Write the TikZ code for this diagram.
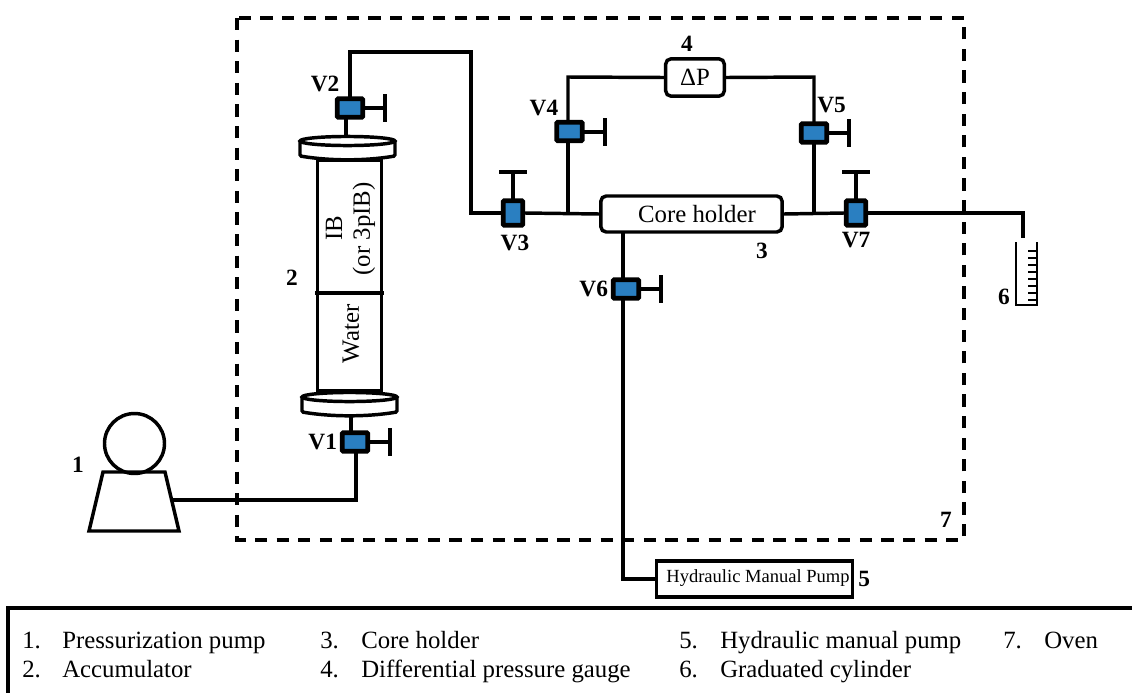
\documentclass[tikz,border=0pt]{standalone}
\usepackage{fontspec}
\setmainfont{Liberation Serif}
\usepackage{tikz}
\usetikzlibrary{positioning}
\definecolor{valveblue}{HTML}{2A7FC1}
\tikzset{
    pipe/.style={line width=2.6pt, line cap=rect, line join=miter},
    handle/.style={line width=3pt, line cap=rect},
    valveh/.style={rectangle,rounded corners=0.8pt,draw=black,fill=valveblue,line width=3.6pt,minimum width=19pt,minimum height=14pt,inner sep=0pt},
    valvev/.style={valveh,minimum width=14.5pt,minimum height=18.5pt},
    mybox/.style={rectangle,rounded corners=4pt,draw=black,fill=white,line width=2.6pt,inner sep=0pt,text centered},
    tag/.style={font=\fontsize{17.5}{19}\selectfont\bfseries,inner sep=0pt},
    txt/.style={font=\fontsize{18.6}{21}\selectfont,inner sep=0pt},
    legend/.style={font=\fontsize{18.6}{21}\selectfont,inner sep=0pt,anchor=base west}
}
\begin{document}
\begin{tikzpicture}[x=0.75pt,y=-0.75pt]
    \useasboundingbox (0,0) rectangle (1132,693);
    % oven
    \draw[line width=2.4pt,dash pattern=on 9.2pt off 7pt] (237,18) rectangle (964,540);
    \node[tag] (oventag) at (946,520) {7};
    % pump
    \node[circle,draw=black,line width=2.6pt,minimum size=45pt,inner sep=0pt] (pumphead) at (134.5,443.5) {};
    \draw[line width=2.6pt,line join=miter] (103,472) -- (165,472) -- (179,531) -- (89,531) -- cycle;
    \coordinate (pumpout) at (173,500);
    \node[tag] (pumptag) at (78,465) {1};
    % accumulator
    \node[rectangle,draw=black,line width=2.4pt,minimum width=48.5pt,minimum height=173pt,inner sep=0pt] (cyl) at (349.5,275.5) {};
    \draw[pipe] (317,293) -- (382,293);
    \foreach \fx/\fy/\fname in {300/135/ftop,302/391/fbot} {
      \begin{scope}[shift={(\fx,\fy)}]
        \draw[line width=2.6pt,fill=white,rounded corners=1pt] (0,6) -- (0,21) .. controls (30,26) and (65,26) .. (95,21) -- (95,6);
        \draw[line width=2.6pt,fill=white] (47.5,6) ellipse (35.6pt and 3.4pt);
        \coordinate (\fname) at (47.5,0);
      \end{scope}
    }
    \node[txt,rotate=90] (ibtxt) at (334,228) {IB};
    \node[txt,rotate=90] (orftxt) at (364,229) {(or 3pIB)};
    \node[txt,rotate=90] (watertxt) at (351,334) {Water};
    \node[tag] (acctag) at (292,278) {2};
    % valves
    \node[valveh] (v1) at (355,442) {};
    \node[valveh] (v2) at (350,108) {};
    \node[valvev] (v3) at (513,213) {};
    \node[valveh] (v4) at (569.5,131.5) {};
    \node[valveh] (v5) at (814,133) {};
    \node[valveh] (v6) at (626,289) {};
    \node[valvev] (v7) at (856,213) {};
    \node[tag,left=2pt of v1] {V1};
    \node[tag,above left=3pt and -3.5pt of v2.north west] {V2};
    \node[tag,below=5pt of v3,xshift=1.5pt] {V3};
    \node[tag,above left=3pt and -3pt of v4.north west] {V4};
    \node[tag,above right=6pt and -9pt of v5.north east] {V5};
    \node[tag,left=2pt of v6] {V6};
    \node[tag,below=3pt of v7] {V7};
    \foreach \v in {v1,v2,v4,v5,v6} {
      \draw[handle] (\v.east) -- ++(20,0) ++(0,-12) -- ++(0,24);
    }
    \foreach \v in {v3,v7} {
      \draw[handle] (\v.north) -- ++(0,-26) ++(-12,0) -- ++(24,0);
    }
    % core holder and gauge
    \node[mybox,minimum width=136pt,minimum height=27pt] (core) at (691.5,214) {};
    \node[txt] (coretxt) at (697,214) {Core holder};
    \node[tag,below right=7pt and -21pt of core.south east] (coretag) {3};
    \node[mybox,minimum width=44pt,minimum height=28pt] (gauge) at (695,77.5) {\fontsize{18.6}{21}\selectfont ΔP};
    \node[tag,above=4pt of gauge,xshift=-6pt] (gaugetag) {4};
    % hydraulic pump
    \node[rectangle,draw=black,line width=2.4pt,minimum width=147pt,minimum height=27pt,inner sep=0pt] (manual) at (754.5,579) {};
    \node[font=\fontsize{13.9}{15}\selectfont,inner sep=0pt] (manualtxt) at (758,578) {Hydraulic Manual Pump};
    \node[tag,right=3pt of manual] (manualtag) {5};
    % cylinder
    \coordinate (glass) at (1016,242);
    \draw[line width=1.2pt] (glass) -- (1016,305) -- (1037,305) -- (1037,242);
    \foreach \ty in {0,...,7} {
      \draw[line width=0.8pt] (1037,251+7*\ty) -- (1028,251+7*\ty);
    }
    \node[tag] (glasstag) at (1004,297) {6};
    % pipes
    \draw[pipe] (pumpout) -- (356,500) -- (v1.south -| 356,0);
    \draw[pipe] (v1.north -| 351,0) -- (351,417);
    \draw[pipe] (v2.north) -- (350,52) -- (471,52) -- (471,213) -- (v3.west);
    \draw[pipe] (v2.south -| 346,0) -- (346,135);
    \draw[pipe] (v3.east) -- (core.west);
    \draw[pipe] (568,213) -- (v4.south -| 568,0);
    \draw[pipe] (v4.north -| 568,0) -- (568,77) -- (gauge.west);
    \draw[pipe] (gauge.east) -- (814,77) -- (v5.north);
    \draw[pipe] (v5.south) -- (814,213);
    \draw[pipe] (core.east) -- (v7.west);
    \draw[pipe] (v7.east) -- (1023,213) -- (1023,236);
    \draw[pipe] (623,233) -- (v6.north -| 623,0);
    \draw[pipe] (v6.south -| 623,0) -- (623,579) -- (manual.west);
    % legend
    \draw[line width=2.4pt] (1132,608) -- (8,608) -- (8,693);
    \foreach \nx/\tx/\ty/\nr/\lab in {
      22/62/648/1/Pressurization pump,
      22/62/677.5/2/Accumulator,
      320/361/648/3/Core holder,
      320/361/677.5/4/Differential pressure gauge,
      679/720/648/5/Hydraulic manual pump,
      679/720/677.5/6/Graduated cylinder,
      1003/1044/648/7/Oven} {
      \node[legend] (num\nr) at (\nx,\ty) {\nr.};
      \node[legend] (lab\nr) at (\tx,\ty) {\lab};
    }
\end{tikzpicture}
\end{document}
